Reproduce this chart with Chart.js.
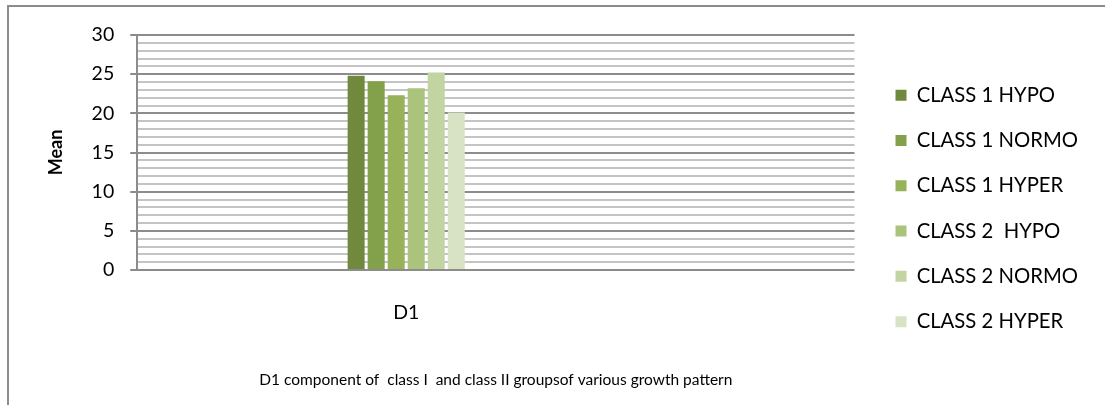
<!DOCTYPE html>
<html>
<head>
<meta charset="utf-8">
<script src="https://cdn.jsdelivr.net/npm/chart.js@4"></script>
<style>
    html, body { margin: 0; padding: 0; background: #ffffff; overflow: hidden; }
    #frame {
        position: absolute; left: 7px; top: 5px;
        width: 1110px; height: 410px;
        border-left: 2px solid #8c8c8c; border-top: 2px solid #8c8c8c;
    }
    #wrap { position: absolute; left: -9px; top: -7px; width: 1105px; height: 405px; }
</style>
</head>
<body>
<div id="frame"><div id="wrap"><canvas id="meanChart"></canvas></div></div>
<script>
// category slots: the single D1 group sits in the second of four slots
const xLabels = ['', 'D1', '', ''];
const seriesNames = ['CLASS 1 HYPO', 'CLASS 1 NORMO', 'CLASS 1 HYPER', 'CLASS 2  HYPO', 'CLASS 2 NORMO', 'CLASS 2 HYPER'];
const seriesValues = [24.8, 24.1, 22.3, 23.2, 25.2, 20.1];
const yTicks = [0, 5, 10, 15, 20, 25, 30];
const chartTitle = 'D1 component of  class I  and class II groupsof various growth pattern';

document.addEventListener('DOMContentLoaded', () => {
    if (typeof Chart === 'undefined') {
        console.error('Chart.js failed to load.');
        return;
    }

    const barColors = ['#71893c', '#83a04b', '#97b258', '#abc47c', '#c3d4a3', '#d7e3c4'];
    const fontFamily = 'Lato, "Liberation Sans", sans-serif';

    const datasets = seriesNames.map((name, i) => ({
        label: name,
        data: xLabels.map(lab => (lab === 'D1' ? seriesValues[i] : null)),
        backgroundColor: barColors[i],
        borderWidth: 0
    }));

    new Chart(document.getElementById('meanChart'), {
        type: 'bar',
        data: { labels: xLabels, datasets: datasets },
        options: {
            responsive: true,
            maintainAspectRatio: false,
            animation: false,
            layout: { padding: { left: 45, top: 35, right: 17, bottom: 8 } },
            datasets: { bar: { categoryPercentage: 0.67, barPercentage: 0.85, skipNull: false } },
            plugins: {
                legend: {
                    position: 'right',
                    align: 'start',
                    maxWidth: 300,
                    title: {
                        display: true,
                        text: '',
                        font: { size: 10 },
                        padding: { top: 13, bottom: 0 }
                    },
                    labels: {
                        boxWidth: 11,
                        boxHeight: 11,
                        padding: 25,
                        color: '#000000',
                        font: { family: fontFamily, size: 20.3 }
                    }
                },
                // centred under the plot area, like the axis title in the original
                title: {
                    display: true,
                    position: 'bottom',
                    fullSize: false,
                    text: chartTitle,
                    color: '#000000',
                    font: { family: fontFamily, size: 15.5, weight: 'normal' },
                    padding: { top: 23, bottom: 8 }
                },
                tooltip: { enabled: false }
            },
            scales: {
                x: {
                    grid: { display: false },
                    border: { display: false },
                    ticks: {
                        color: '#000000',
                        font: { family: fontFamily, size: 19.5 },
                        padding: 23
                    }
                },
                y: {
                    min: 0,
                    max: 30,
                    afterBuildTicks: axis => {
                        const t = [];
                        for (let v = 0; v <= 30; v++) t.push({ value: v });
                        axis.ticks = t;
                    },
                    border: { color: '#8c8c8c', width: 2 },
                    grid: {
                        color: c => (yTicks.includes(c.tick.value) ? '#8c8c8c' : '#c4c4c4'),
                        tickColor: c => (yTicks.includes(c.tick.value) ? '#8c8c8c' : 'rgba(0,0,0,0)'),
                        lineWidth: 2,
                        tickLength: 7
                    },
                    ticks: {
                        autoSkip: false,
                        color: '#000000',
                        font: { family: fontFamily, size: 19.5 },
                        padding: 16,
                        callback: value => (yTicks.includes(value) ? value : '')
                    },
                    title: {
                        display: true,
                        text: 'Mean',
                        color: '#000000',
                        font: { family: fontFamily, size: 18, weight: 'bold' },
                        padding: { top: 0, bottom: 9 }
                    }
                },
                // empty spacer axis keeps a gap between the plot and the legend
                gap: {
                    position: 'right',
                    grid: { display: false },
                    border: { display: false },
                    ticks: { display: false },
                    afterFit: scale => { scale.width = 16; }
                }
            }
        }
    });
});
</script>
</body>
</html>
